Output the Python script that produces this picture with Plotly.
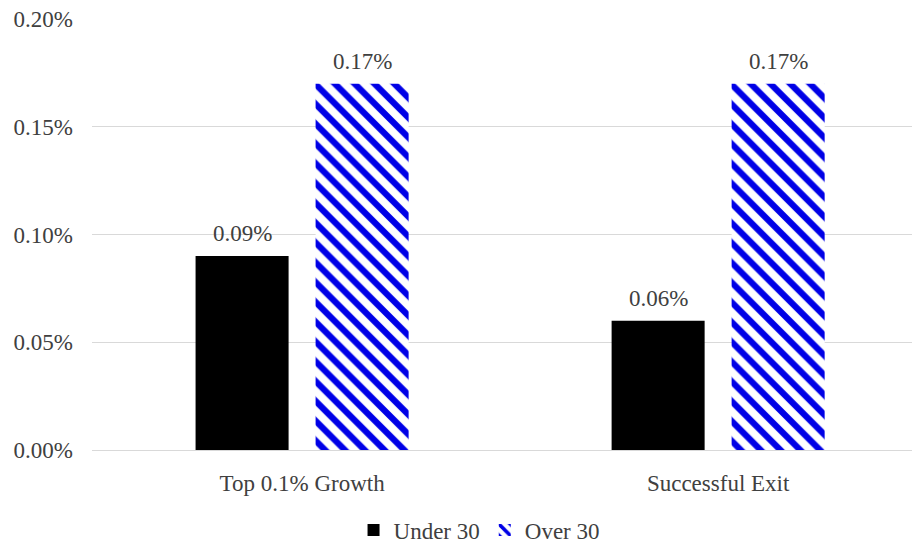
import plotly.graph_objects as go

categories = ["Top 0.1% Growth", "Successful Exit"]
under_30 = [0.0009, 0.0006]
over_30 = [0.0017, 0.0017]
y_ticks = [0, 0.0005, 0.001, 0.0015, 0.002]
y_tick_labels = ["0.00%", "0.05%", "0.10%", "0.15%", "0.20%"]

serif = "Liberation Serif, Times New Roman, serif"
text_color = "#404040"
font_size = 23

fig = go.Figure()
fig.add_trace(go.Bar(
    name="Under 30", x=categories, y=under_30,
    marker=dict(color="#000000", line=dict(width=0)),
))
fig.add_trace(go.Bar(
    name="Over 30", x=categories, y=over_30,
    marker=dict(color="#0000e6", line=dict(width=0),
                pattern=dict(shape="\\", fgcolor="#0000e6", bgcolor="#ffffff",
                             fgopacity=1, size=14, solidity=0.45,
                             fillmode="replace")),
))

# value labels above each bar (offset to the bar's slot within the group)
slot_offset = 0.144
annotations = []
for i, cat in enumerate(categories):
    for vals, off in ((under_30, -slot_offset), (over_30, slot_offset)):
        v = vals[i]
        annotations.append(dict(
            x=i + off, y=v, xref="x", yref="y", text=f"{v*100:.2f}%",
            showarrow=False, yanchor="bottom", yshift=8,
            font=dict(family=serif, size=font_size, color=text_color),
        ))

fig.update_layout(
    width=915, height=543,
    margin=dict(l=92, r=3, t=19, b=93, autoexpand=False),
    paper_bgcolor="white", plot_bgcolor="white",
    barmode="group", bargap=0.423, bargroupgap=0.225,
    font=dict(family=serif, size=font_size, color=text_color),
    showlegend=True,
    annotations=annotations,
    legend=dict(orientation="h", x=0.472, xanchor="center",
                y=0.024, yref="container", yanchor="middle",
                font=dict(family=serif, size=font_size, color=text_color),
                itemwidth=30, traceorder="normal"),
    xaxis=dict(range=[-0.505, 1.466], showgrid=False, showline=True,
               linecolor="#d9d9d9", linewidth=1, ticks="", ticklabelstandoff=12,
               automargin=False,
               tickfont=dict(family=serif, size=font_size, color=text_color)),
    yaxis=dict(range=[0, 0.002], tickvals=y_ticks, ticktext=y_tick_labels,
               showgrid=True, gridcolor="#d9d9d9", gridwidth=1, zeroline=False,
               showline=False, ticks="", ticklabelstandoff=18, automargin=False,
               tickfont=dict(family=serif, size=font_size, color=text_color)),
)

fig.write_html("out.html")
